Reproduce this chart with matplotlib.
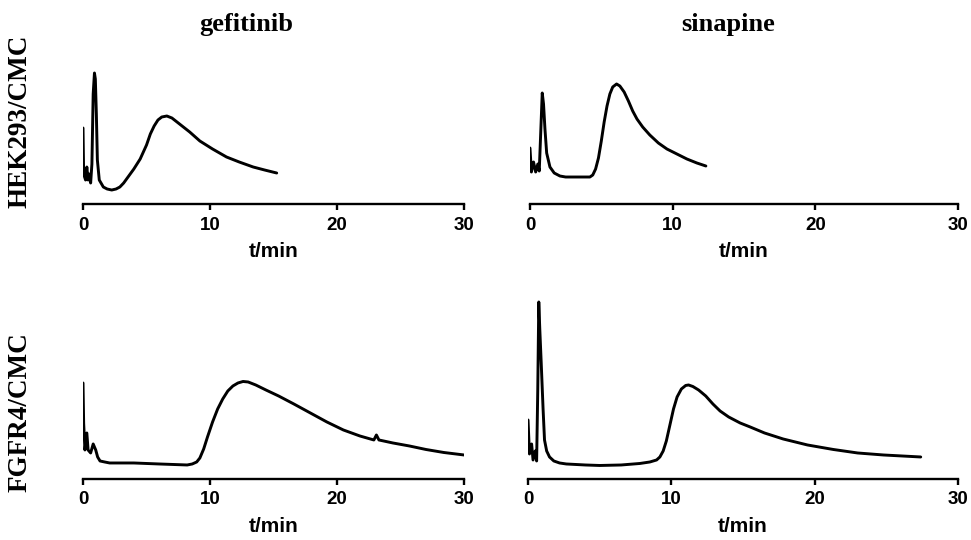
import matplotlib
matplotlib.use("Agg")
import matplotlib.pyplot as plt

# column / row titles
drugs = ["gefitinib", "sinapine"]
columns = ["HEK293/CMC", "FGFR4/CMC"]
xticks = [0, 10, 20, 30]

# chromatograms: retention time (min) and detector response (arbitrary units)
hek_gef_t = [0, 0.05, 0.2, 0.3, 0.4, 0.5, 0.6, 0.7, 0.8, 0.9, 0.97, 1.05, 1.13, 1.28,
             1.6, 1.9, 2.26, 2.6, 2.9, 3.2, 3.6, 4.0, 4.5, 5.0, 5.3, 5.6, 5.9, 6.2,
             6.6, 7.0, 7.4, 7.9, 8.4, 9.2, 10.2, 11.3, 12.3, 13.4, 14.3, 15.25]
hek_gef_y = [76, 30, 24, 37, 24, 30, 21, 40, 110, 131, 125, 90, 44, 24,
             17, 15, 14, 15, 17, 21, 28, 35, 45, 59, 70, 78, 84, 87,
             88, 86, 82, 77, 72, 63, 55, 47, 42, 37, 34, 31]

hek_sin_t = [0, 0.1, 0.25, 0.4, 0.55, 0.65, 0.75, 0.86, 0.95, 1.05, 1.17, 1.4, 1.7,
             2.1, 2.5, 3.5, 4.2, 4.4, 4.6, 4.8, 5.0, 5.2, 5.4, 5.6, 5.8, 6.07,
             6.3, 6.6, 6.9, 7.2, 7.5, 7.9, 8.4, 9.0, 9.6, 10.3, 11.0, 11.7, 12.33]
hek_sin_y = [56, 32, 42, 32, 40, 33, 70, 111, 100, 75, 51, 37, 31,
             28, 27, 27, 27, 29, 35, 46, 63, 82, 98, 110, 117, 120,
             118, 112, 103, 93, 85, 77, 69, 61, 55, 50, 45, 41, 38]

fgfr_gef_t = [0, 0.05, 0.15, 0.3, 0.4, 0.6, 0.8, 1.0, 1.15, 1.34, 1.7, 2.1, 4.0, 6.0,
              8.2, 8.6, 8.95, 9.2, 9.5, 9.8, 10.2, 10.6, 11.0, 11.4, 11.8, 12.2,
              12.6, 13.0, 13.6, 14.4, 15.4, 16.6, 17.9, 19.2, 20.5, 21.8, 22.9,
              23.1, 23.3, 24.4, 25.7, 27.0, 28.4, 30]
fgfr_gef_y = [96, 56, 29, 46, 29, 26, 35, 29, 22, 18, 17, 16, 16, 15,
              14, 15, 17, 21, 30, 42, 57, 70, 80, 88, 93, 96,
              97.5, 97, 94, 89, 83, 75, 66, 57, 49, 43, 39,
              44, 39, 36, 33, 29.5, 26.5, 24]

fgfr_sin_t = [0, 0.1, 0.25, 0.35, 0.5, 0.6, 0.68, 0.75, 0.82, 0.92, 1.05, 1.15, 1.3,
              1.5, 1.8, 2.2, 2.67, 4.0, 5.0, 6.5, 7.8, 8.5, 8.97, 9.2, 9.43, 9.65,
              9.9, 10.15, 10.4, 10.7, 11.0, 11.2, 11.5, 11.9, 12.4, 12.9, 13.4,
              14.0, 14.8, 15.5, 16.5, 17.8, 19.5, 21.3, 23.0, 24.8, 27.4]
fgfr_sin_y = [59, 25, 35, 19, 28, 18, 90, 177, 150, 116, 70, 39, 28,
              22, 18, 16, 15, 14, 13.5, 14, 15.5, 17, 19, 22, 28, 38,
              54, 70, 82, 90, 93.5, 94, 92.5, 89, 83, 75, 68,
              62, 56, 52, 46, 40, 34, 29.5, 26, 24, 22]

traces = [[(hek_gef_t, hek_gef_y), (hek_sin_t, hek_sin_y)],
          [(fgfr_gef_t, fgfr_gef_y), (fgfr_sin_t, fgfr_sin_y)]]

fig = plt.figure(figsize=(9.71, 5.4), dpi=100)

# axes rectangles in figure fraction (left, bottom, width, height)
rects = [[(0.0855, 0.6222, 0.3924, 0.2667), (0.5458, 0.6222, 0.4408, 0.2667)],
         [(0.0855, 0.1130, 0.3924, 0.3500), (0.5438, 0.1130, 0.4428, 0.3500)]]
ytops = [144, 189]

sans = "Liberation Sans"
serif = "Liberation Serif"

for r in range(2):
    for c in range(2):
        ax = fig.add_axes(rects[r][c])
        t, y = traces[r][c]
        ax.plot(t, y, color="black", linewidth=2.1, solid_joinstyle="round",
                solid_capstyle="round")
        ax.set_xlim(0, 30)
        ax.set_ylim(0, ytops[r])
        for s in ["top", "right", "left"]:
            ax.spines[s].set_visible(False)
        ax.spines["bottom"].set_linewidth(1.7)
        ax.set_yticks([])
        ax.set_xticks(xticks)
        ax.tick_params(axis="x", direction="out", length=4, width=1.7, pad=5)
        for lab in ax.get_xticklabels():
            lab.set_fontfamily(sans)
            lab.set_fontweight("bold")
            lab.set_fontsize(13.5)
        ax.set_xlabel("t/min", fontfamily=sans, fontweight="bold",
                      fontsize=15, labelpad=6)
        ax.patch.set_visible(False)

fig.text(0.254, 0.955, drugs[0], ha="center", va="center",
         fontfamily=serif, fontweight="bold", fontsize=19)
fig.text(0.750, 0.955, drugs[1], ha="center", va="center",
         fontfamily=serif, fontweight="bold", fontsize=19)
fig.text(0.021, 0.776, columns[0], ha="center", va="center", rotation=90,
         fontfamily=serif, fontweight="bold", fontsize=19.5)
fig.text(0.021, 0.237, columns[1], ha="center", va="center", rotation=90,
         fontfamily=serif, fontweight="bold", fontsize=19.5)

fig.savefig("out.png", dpi=100)
